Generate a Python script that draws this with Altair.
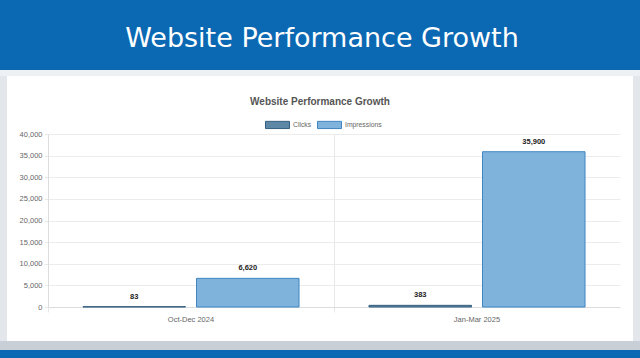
import altair as alt
import pandas as pd

periods = ["Oct-Dec 2024", "Jan-Mar 2025"]
metrics = ["Clicks", "Impressions"]
clicks = [83, 383]
impressions = [6620, 35900]
y_ticks = [0, 5000, 10000, 15000, 20000, 25000, 30000, 35000, 40000]
header_title = "Website Performance Growth"
chart_title = "Website Performance Growth"

rows = []
for p, c, i in zip(periods, clicks, impressions):
    rows.append({"period": p, "metric": "Clicks", "value": c})
    rows.append({"period": p, "metric": "Impressions", "value": i})
df = pd.DataFrame(rows)

BLUE = "#0b68b3"
W, H = 572, 173
PL, PT = 48, 134  # plot origin in page pixels

def px(x):
    return x - PL

def py(y):
    return y - PT

one = alt.Data(values=[{}])

def band(x1, y1, x2, y2, color):
    return alt.Chart(one).mark_rect(color=color).encode(
        x=alt.value(px(x1)), x2=alt.value(px(x2)),
        y=alt.value(py(y1)), y2=alt.value(py(y2)))

deco = [
    band(0, 0, 640, 70, BLUE),
    band(0, 70, 640, 76, "#eef1f4"),
    band(0, 76, 7, 350, "#e3e7eb"),
    band(633, 76, 640, 350, "#e3e7eb"),
    band(0, 341, 640, 350, "#c9cfd6"),
    band(0, 350, 640, 358, BLUE),
]

header = alt.Chart(one).mark_text(
    text=header_title, font="DejaVu Sans", fontSize=27, fontWeight="normal",
    color="white", align="center", baseline="middle"
).encode(x=alt.value(px(322)), y=alt.value(py(39)))

card_title = alt.Chart(one).mark_text(
    text=chart_title, font="Liberation Sans", fontSize=10, fontWeight="bold",
    color="#555555", align="center", baseline="middle"
).encode(x=alt.value(px(320)), y=alt.value(py(102)))

base = alt.Chart(df).encode(
    x=alt.X("period:N", sort=periods, title=None,
            scale=alt.Scale(paddingInner=0, paddingOuter=0),
            axis=alt.Axis(bandPosition=0, grid=True, gridColor="#e8e8e8",
                          domainColor="#dcdcdc", tickColor="#e8e8e8", tickSize=5,
                          labelPadding=3, labelAngle=0,
                          labelColor="#666666", labelFontSize=7.5,
                          labelFont="Liberation Sans")),
    xOffset=alt.XOffset("metric:N", sort=metrics,
                        scale=alt.Scale(paddingInner=0.097, paddingOuter=0.308)),
    y=alt.Y("value:Q", title=None,
            scale=alt.Scale(domain=[0, 40000], nice=False),
            axis=alt.Axis(values=y_ticks, format=",.0f", gridColor="#ececec",
                          domainColor="#dcdcdc", tickColor="#e8e8e8", tickSize=4,
                          labelPadding=2, labelColor="#666666", labelFontSize=7.5,
                          labelFont="Liberation Sans")),
)

bars = base.mark_bar(strokeWidth=1).encode(
    color=alt.Color("metric:N", sort=metrics,
                    scale=alt.Scale(domain=metrics, range=["#5f87a6", "#7fb3dc"]),
                    legend=alt.Legend(title=None, orient="none", direction="horizontal",
                                      legendX=217, legendY=-22,
                                      symbolType="M-1,-0.3L1,-0.3L1,0.3L-1,0.3Z",
                                      symbolSize=576, symbolStrokeWidth=1,
                                      labelFontSize=6.8, labelColor="#666666",
                                      labelFont="Liberation Sans",
                                      columnPadding=3, labelOffset=3)),
    stroke=alt.Stroke("metric:N", sort=metrics,
                      scale=alt.Scale(domain=metrics, range=["#355f80", "#3f86c2"]),
                      legend=None),
)

labels = base.mark_text(dy=-10, fontWeight="bold", fontSize=7.5,
                        font="Liberation Sans", color="#222222",
                        baseline="middle").encode(
    text=alt.Text("value:Q", format=","))

chart = alt.layer(*deco, header, card_title, bars, labels).properties(
    width=W, height=H,
    padding={"left": PL, "top": PT, "right": 640 - PL - W, "bottom": 358 - PT - H},
    autosize=alt.AutoSizeParams(type="none"),
).configure(background="#ffffff").configure_view(stroke=None)

chart.save("out.html", embed_options={"renderer": "svg", "actions": False})
